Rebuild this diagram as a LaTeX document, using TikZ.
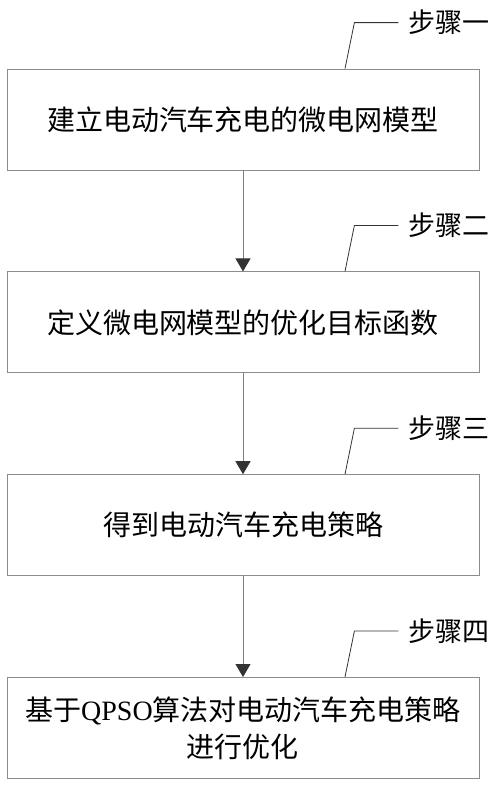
\documentclass[tikz,border=0pt]{standalone}
\usepackage{fontspec}
\setmainfont{Liberation Serif}
\newfontfamily\cjk{Noto Sans CJK SC}
\usetikzlibrary{positioning,arrows.meta}

\begin{document}
\begin{tikzpicture}[x=1pt,y=-1pt,
stepbox/.style={rectangle, draw=black!45, line width=0.8pt, minimum width=472pt, minimum height=101pt, inner sep=0pt, align=center, font=\cjk\fontsize{28}{37}\selectfont},
steplabel/.style={inner xsep=10pt, inner ysep=0pt, anchor=west, font=\cjk\fontsize{27}{30}\selectfont},
flow/.style={draw=black!50, line width=0.8pt, -{Triangle[width=15pt,length=13pt,color=black!80]}},
leader/.style={draw=black!80, line width=0.8pt},
]
\useasboundingbox (0,0) rectangle (500,785);

\node[stepbox] (b1) at (243,119.5) {建立电动汽车充电的微电网模型};
\node[stepbox, below=101pt of b1] (b2) {定义微电网模型的优化目标函数};
\node[stepbox, below=101pt of b2] (b3) {得到电动汽车充电策略};
\node[stepbox, below=101pt of b3] (b4) {基于{\rmfamily QPSO}算法对电动汽车充电策略\\进行优化};

\foreach \i/\t in {1/一,2/二,3/三,4/四} {
  \node[steplabel] (s\i) at ([xshift=-81pt,yshift=46pt]b\i.north east) {步骤\t};
  \draw[leader] (s\i.west) -- ++(-44,0) -- ([xshift=102pt]b\i.north);
}

\path
(b1) edge[flow] (b2)
(b2) edge[flow] (b3)
(b3) edge[flow] (b4)
;
\end{tikzpicture}
\end{document}
